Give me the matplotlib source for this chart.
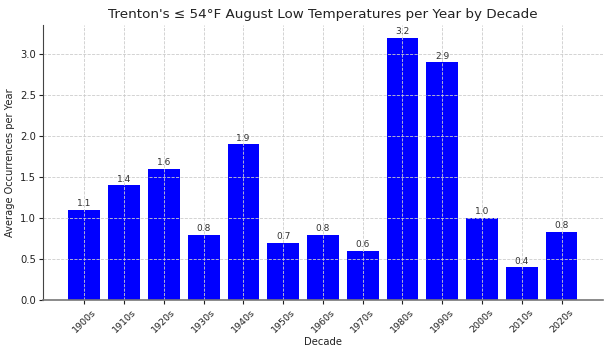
import matplotlib
matplotlib.use("Agg")
import matplotlib.pyplot as plt

decades = ["1900s", "1910s", "1920s", "1930s", "1940s", "1950s", "1960s",
           "1970s", "1980s", "1990s", "2000s", "2010s", "2020s"]
values = [1.1, 1.4, 1.6, 0.8, 1.9, 0.7, 0.8, 0.6, 3.2, 2.9, 1.0, 0.4, 0.83]

fig = plt.figure(figsize=(6.04, 3.51), dpi=100)
ax = fig.add_axes([0.0712, 0.145, 0.927, 0.785])

bars = ax.bar(decades, values, color="blue", width=0.8)
for b, v in zip(bars, values):
    ax.text(b.get_x() + b.get_width() / 2, v + 0.02, f"{v:.1f}",
            ha="center", va="bottom", fontsize=6.5, color="#333333")

ax.set_title("Trenton's ≤ 54°F August Low Temperatures per Year by Decade",
             fontsize=9.7, color="#222222", pad=5)
ax.set_xlabel("Decade", fontsize=7.2, color="#222222", labelpad=2)
ax.set_ylabel("Average Occurrences per Year", fontsize=7.1, color="#222222")
ax.tick_params(axis="x", labelrotation=45, labelsize=6.8, colors="#222222",
               length=3, pad=2)
ax.tick_params(axis="y", labelsize=7.2, colors="#222222", length=3, pad=2)
for lbl in ax.get_xticklabels():
    lbl.set_ha("center")
ax.grid(True, linestyle="--", color="#cccccc", linewidth=0.6)
ax.spines["top"].set_visible(False)
ax.spines["right"].set_visible(False)
ax.spines["left"].set_color("#444444")
ax.spines["bottom"].set_color("#777777")
ax.spines["bottom"].set_linewidth(1.2)

fig.savefig("out.png", dpi=100)
